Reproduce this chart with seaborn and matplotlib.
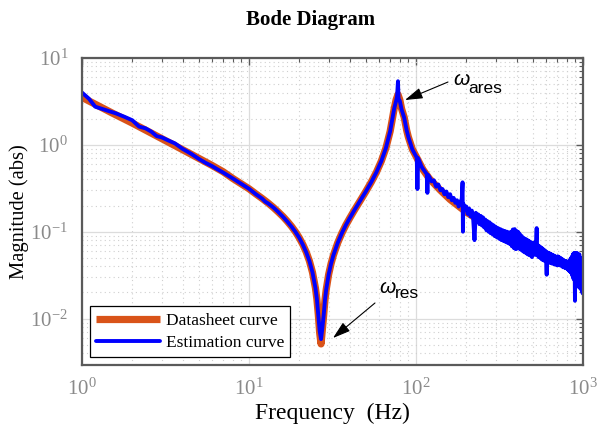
import numpy as np
import pandas as pd
import matplotlib
matplotlib.use("Agg")
import matplotlib.pyplot as plt
import seaborn as sns

# ---------------- data ----------------
ds_freq = [1.0, 1.25, 1.5, 2.0, 2.5, 3.0, 4.0, 5.0, 6.0, 7.0, 8.0, 9.0, 10.0,
           11.0, 12.0, 13.0, 14.0, 15.0, 16.0, 17.0, 18.0, 19.0, 20.0, 21.0,
           22.0, 23.0, 24.0, 25.0, 25.5, 26.0, 26.5, 27.0, 27.5, 28.0, 28.5,
           29.0, 30.0, 31.0, 32.0, 34.0, 36.0, 38.0, 40.0, 43.0, 46.0, 50.0,
           54.0, 58.0, 62.0, 66.0, 70.0, 72.0, 74.0, 76.0, 78.0, 80.0, 82.0,
           85.0, 88.0, 90.0, 95.0, 100.0, 110.0, 120.0, 140.0, 160.0, 200.0,
           250.0, 300.0, 400.0, 500.0, 600.0, 700.0, 800.0, 900.0, 1000.0]
ds_mag = [3.52, 2.82, 2.35, 1.78, 1.42, 1.18, 0.88, 0.70, 0.58, 0.49, 0.41,
          0.355, 0.312, 0.272, 0.241, 0.214, 0.190, 0.168, 0.149, 0.131,
          0.1147, 0.0994, 0.085, 0.0713, 0.0584, 0.046, 0.034, 0.0224,
          0.0167, 0.0111, 0.0068, 0.0051, 0.0075, 0.0109, 0.0163, 0.0216,
          0.0323, 0.0428, 0.0534, 0.0747, 0.0964, 0.119, 0.142, 0.180, 0.222,
          0.289, 0.373, 0.486, 0.650, 0.916, 1.43, 1.93, 2.6, 3.3, 3.8, 3.3,
          2.6, 2.07, 1.46, 1.23, 0.893, 0.74, 0.52, 0.41, 0.30, 0.235, 0.168,
          0.128, 0.104, 0.078, 0.063, 0.053, 0.047, 0.043, 0.039, 0.036]

# estimation curve, low / resonance part
est_freq_lo = [1.0, 1.1, 1.2, 1.3, 1.4, 1.6, 1.8, 2.0, 2.2, 2.4, 2.6, 2.8,
               3.0, 3.3, 3.6, 4.0, 4.5, 5.0, 5.5, 6.0, 6.5, 7.0, 8.0, 9.0,
               10.0, 11.0, 12.0, 12.5, 13.0, 14.0, 15.0, 16.0, 17.0, 18.0,
               19.0, 20.0, 21.0, 22.0, 23.0, 24.0, 25.0, 25.5, 26.0, 26.5,
               27.0, 27.5, 28.0, 28.5, 29.0, 30.0, 31.0, 32.0, 34.0, 36.0,
               38.0, 40.0, 43.0, 46.0, 50.0, 54.0, 58.0, 62.0, 66.0, 70.0,
               72.0, 74.0, 76.0, 77.0, 78.0, 78.6, 80.0, 82.0, 85.0, 88.0,
               90.0, 95.0, 100.0, 101.0, 102.0, 103.0, 108.0, 110.0, 116.0,
               117.0, 118.0]
est_mag_lo = [4.0, 3.4, 2.75, 2.62, 2.5, 2.3, 2.1, 1.92, 1.62, 1.55, 1.42,
              1.26, 1.22, 1.12, 1.04, 0.90, 0.79, 0.69, 0.62, 0.57, 0.52,
              0.48, 0.41, 0.355, 0.312, 0.27, 0.24, 0.222, 0.212, 0.19,
              0.168, 0.148, 0.13, 0.114, 0.099, 0.085, 0.071, 0.058, 0.046,
              0.034, 0.0224, 0.0167, 0.011, 0.0072, 0.0058, 0.0078, 0.0109,
              0.0163, 0.0216, 0.0323, 0.0428, 0.0534, 0.0747, 0.0964, 0.119,
              0.142, 0.180, 0.222, 0.289, 0.373, 0.486, 0.650, 0.916, 1.43,
              1.93, 2.6, 3.2, 3.6, 5.4, 3.4, 3.2, 2.55, 2.05, 1.46, 1.23,
              0.89, 0.74, 0.72, 0.31, 0.70, 0.56, 0.53, 0.46, 0.28, 0.45]

# estimation curve, noisy high-frequency part
est_freq_hi = [120, 124, 128, 132, 136, 140, 144, 148, 152, 156,
               160, 164, 168, 172, 176, 180, 184, 188, 190, 191,
               192, 196,
               200, 204, 208, 212, 216, 220, 224, 228, 232, 236,
               240, 244, 248, 252, 256, 260, 264, 268, 272, 276,
               280, 284, 288, 292, 296, 300,
               305, 310, 315, 320, 325, 330, 335, 340, 345, 350,
               355, 360, 365, 370, 375, 380, 385, 390, 395, 400,
               405, 410, 415, 420, 425, 430, 435, 440, 445, 450,
               455, 460, 465, 470, 475, 480, 485, 490, 495, 500,
               506, 512, 518, 524, 528, 530, 536, 542, 548, 554,
               560, 566, 572, 578, 584, 590, 596, 602, 606, 610,
               616, 622, 628, 634, 640, 646, 652, 658, 664, 670,
               676, 682, 688, 694, 700,
               706, 712, 718, 724, 730, 736, 742, 748, 754, 760,
               766, 772, 778, 784, 790, 796, 802, 808, 814, 820,
               826, 832, 838, 844, 850,
               855, 860, 865, 870, 875, 880, 885, 890, 895, 900,
               905, 910, 915, 920, 925, 930, 935, 940, 945, 950,
               955, 960, 965, 970, 975, 980, 985, 990, 995, 1000]
est_mag_hi = [0.43, 0.38, 0.39, 0.33, 0.35, 0.30, 0.31, 0.27, 0.29, 0.25,
              0.27, 0.23, 0.245, 0.215, 0.23, 0.195, 0.215, 0.24, 0.37, 0.10,
              0.21, 0.18,
              0.195, 0.16, 0.185, 0.15, 0.175, 0.14, 0.08, 0.165, 0.13, 0.158,
              0.122, 0.152, 0.118, 0.146, 0.112, 0.138, 0.104, 0.132, 0.10, 0.128,
              0.096, 0.122, 0.093, 0.118, 0.089, 0.114,
              0.086, 0.11, 0.083, 0.107, 0.08, 0.104, 0.078, 0.102, 0.076, 0.10,
              0.074, 0.098, 0.072, 0.099, 0.068, 0.106, 0.065, 0.107, 0.063, 0.102,
              0.064, 0.099, 0.064, 0.093, 0.062, 0.089, 0.06, 0.085, 0.058, 0.083,
              0.057, 0.081, 0.055, 0.079, 0.054, 0.077, 0.053, 0.075, 0.051, 0.073,
              0.055, 0.075, 0.054, 0.072, 0.11, 0.055, 0.07, 0.051, 0.068, 0.05,
              0.066, 0.048, 0.064, 0.047, 0.062, 0.046, 0.06, 0.045, 0.032, 0.058,
              0.045, 0.057, 0.044, 0.056, 0.044, 0.055, 0.043, 0.054, 0.043, 0.053,
              0.042, 0.052, 0.042, 0.051, 0.041,
              0.052, 0.042, 0.051, 0.041, 0.05, 0.041, 0.049, 0.040, 0.048, 0.039,
              0.047, 0.039, 0.046, 0.038, 0.046, 0.038, 0.045, 0.037, 0.045, 0.036,
              0.046, 0.035, 0.048, 0.034, 0.05,
              0.033, 0.052, 0.031, 0.055, 0.029, 0.056, 0.028, 0.057, 0.016, 0.054,
              0.026, 0.05, 0.028, 0.057, 0.024, 0.052, 0.027, 0.05, 0.023, 0.055,
              0.026, 0.048, 0.022, 0.05, 0.025, 0.046, 0.021, 0.048, 0.0195, 0.04]

series_labels = ["Datasheet curve", "Estimation curve"]
x_tick_vals = [1, 10, 100, 1000]
x_tick_labels = [r"$10^{0}$", r"$10^{1}$", r"$10^{2}$", r"$10^{3}$"]
y_tick_vals = [0.01, 0.1, 1, 10]
y_tick_labels = [r"$10^{-2}$", r"$10^{-1}$", r"$10^{0}$", r"$10^{1}$"]

# ---------------- style ----------------
sns.set_theme(style="white")
plt.rcParams["font.family"] = ["Liberation Serif", "DejaVu Serif"]
plt.rcParams["text.color"] = "black"
plt.rcParams["axes.labelcolor"] = "black"
plt.rcParams["mathtext.fontset"] = "custom"
plt.rcParams["mathtext.rm"] = "Liberation Serif"
plt.rcParams["mathtext.it"] = "Liberation Serif:italic"
plt.rcParams["mathtext.bf"] = "Liberation Serif:bold"

fig = plt.figure(figsize=(5.97, 4.25), dpi=100)
ax = fig.add_axes([82 / 597, 1 - 365 / 425, 501 / 597, 307 / 425])

ds_df = pd.DataFrame({"freq": ds_freq, "mag": ds_mag})
est_df = pd.DataFrame({"freq": est_freq_lo + est_freq_hi,
                       "mag": est_mag_lo + est_mag_hi})

sns.lineplot(data=ds_df, x="freq", y="mag", ax=ax, color="#D95319",
             linewidth=5.2, label=series_labels[0], estimator=None,
             sort=False, solid_joinstyle="round", solid_capstyle="butt")
sns.lineplot(data=est_df, x="freq", y="mag", ax=ax, color="#0000FF",
             linewidth=2.8, label=series_labels[1], estimator=None,
             sort=False, solid_joinstyle="round")

ax.set_xscale("log")
ax.set_yscale("log")
ax.set_xlim(1, 1000)
ax.set_ylim(10 ** -2.535, 10)

ax.set_xticks(x_tick_vals)
ax.set_xticklabels(x_tick_labels)
ax.set_yticks(y_tick_vals)
ax.set_yticklabels(y_tick_labels)

tick_grey = "#8a8a8a"
frame_grey = "#5a5a5a"
ax.tick_params(axis="both", which="major", direction="in", length=5,
               width=1.0, color=frame_grey, labelcolor=tick_grey,
               labelsize=15, top=True, right=True, pad=10)
ax.tick_params(axis="both", which="minor", direction="in", length=3,
               width=0.8, color=frame_grey, top=True, right=True)
for s in ax.spines.values():
    s.set_color(frame_grey)
    s.set_linewidth(1.6)

ax.grid(True, which="major", color="#dcdcdc", linestyle="-", linewidth=0.9)
ax.grid(True, which="minor", color="#cfcfcf", linestyle=(0, (1, 3)),
        linewidth=0.8)
ax.set_axisbelow(True)

ax.set_xlabel("Frequency  (Hz)", fontsize=17, color="black", labelpad=2)
ax.set_ylabel("Magnitude (abs)", fontsize=14.8, color="black", labelpad=1)
fig.text(311 / 597, 1 - 20 / 425, "Bode Diagram", ha="center", va="center",
         fontsize=15, fontweight="bold", color="black")

leg = ax.legend(loc="lower left", bbox_to_anchor=(0.016, 0.026),
                borderaxespad=0, fontsize=12.5, frameon=True, fancybox=False,
                handlelength=3.7, handletextpad=0.3, borderpad=0.35,
                labelspacing=0.35)
leg.get_frame().set_edgecolor("black")
leg.get_frame().set_linewidth(0.9)
leg.get_frame().set_alpha(1)
for t in leg.get_texts():
    t.set_color("black")

# annotations
sans = ["Liberation Sans", "DejaVu Sans"]
ax.annotate("", xy=(0.6447, 0.8632), xytext=(0.7305, 0.9218),
            xycoords="axes fraction", textcoords="axes fraction",
            arrowprops=dict(arrowstyle="-|>,head_length=0.9,head_width=0.28",
                            color="black", lw=0.8, shrinkA=0, shrinkB=0))
ax.text(0.7565, 0.930, "ω", transform=ax.transAxes, ha="center",
        va="center", fontsize=15, family=sans, style="italic")
ax.text(0.770, 0.900, "ares", transform=ax.transAxes, ha="left",
        va="center", fontsize=12.5, family=sans)

ax.annotate("", xy=(0.501, 0.0879), xytext=(0.5848, 0.2020),
            xycoords="axes fraction", textcoords="axes fraction",
            arrowprops=dict(arrowstyle="-|>,head_length=0.9,head_width=0.28",
                            color="black", lw=0.8, shrinkA=0, shrinkB=0))
ax.text(0.6098, 0.2523, "ω", transform=ax.transAxes, ha="center",
        va="center", fontsize=15, family=sans, style="italic")
ax.text(0.6248, 0.2325, "res", transform=ax.transAxes, ha="left",
        va="center", fontsize=12.5, family=sans)

fig.savefig("out.png", dpi=100)
